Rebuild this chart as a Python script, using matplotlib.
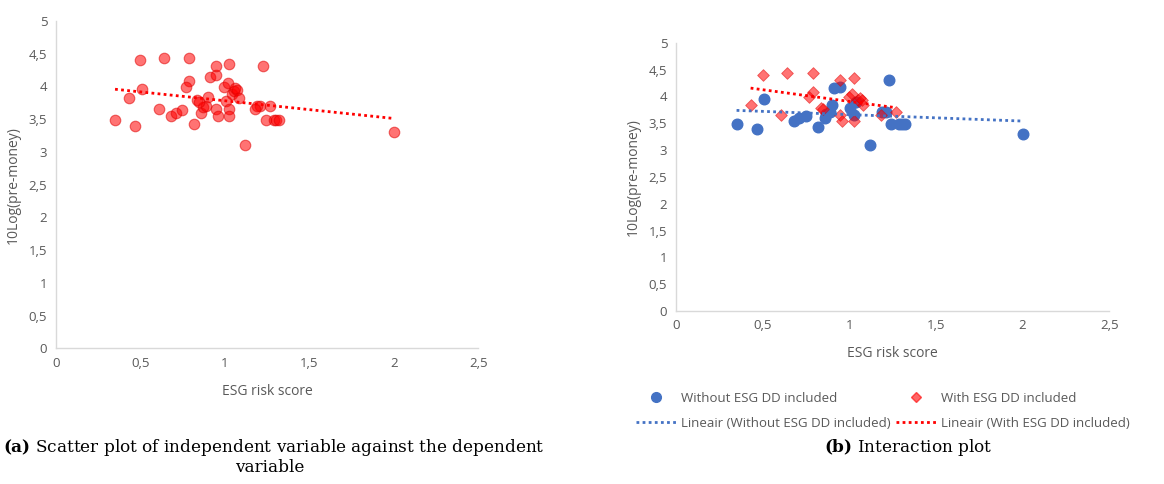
import numpy as np
import matplotlib
matplotlib.use("Agg")
import matplotlib.pyplot as plt
from matplotlib.lines import Line2D

# ---- data ----
esg_without = [0.351, 0.469, 0.511, 0.680, 0.710, 0.749, 0.820, 0.862, 0.869, 0.891,
               0.901, 0.911, 0.950, 1.007, 1.027, 1.041, 1.120, 1.191, 1.211, 1.228,
               1.242, 1.289, 1.303, 1.321, 2.001]
val_without = [3.48, 3.40, 3.96, 3.55, 3.59, 3.64, 3.43, 3.59, 3.68, 3.70,
               3.84, 4.15, 4.18, 3.78, 3.66, 3.89, 3.10, 3.70, 3.70, 4.31,
               3.48, 3.48, 3.48, 3.48, 3.30]
esg_with = [0.432, 0.501, 0.609, 0.641, 0.789, 0.789, 0.769, 0.838, 0.848, 0.950,
            0.950, 0.960, 0.998, 1.019, 1.027, 1.027, 1.053, 1.061, 1.073, 1.082,
            1.181, 1.270]
val_with = [3.83, 4.40, 3.66, 4.44, 4.43, 4.09, 3.99, 3.79, 3.76, 4.31,
            3.66, 3.55, 3.99, 4.05, 4.34, 3.55, 3.93, 3.97, 3.94, 3.83,
            3.66, 3.70]

x_ticks = [0, 0.5, 1, 1.5, 2, 2.5]
y_ticks = [0, 0.5, 1, 1.5, 2, 2.5, 3, 3.5, 4, 4.5, 5]
x_label = "ESG risk score"
y_label = "10Log(pre-money)"
caption_a_line1 = "Scatter plot of independent variable against the dependent"
caption_a_line2 = "variable"
caption_b = "Interaction plot"
legend_labels = ["Without ESG DD included", "Lineair (Without ESG DD included)",
                 "With ESG DD included", "Lineair (With ESG DD included)"]

BLUE = "#4472C4"
RED = "#FF0000"
GRAY = "#595959"
AX_GRAY = "#D9D9D9"

plt.rcParams['font.family'] = ['Open Sans', 'DejaVu Sans']
plt.rcParams['mathtext.fontset'] = 'dejavuserif'

W, H = 1164, 484
fig = plt.figure(figsize=(W / 100, H / 100), dpi=100)


def fmt(v):
    return ("%g" % v).replace(".", ",")


def style_axes(ax):
    ax.set_xlim(0, 2.5)
    ax.set_ylim(0, 5)
    ax.set_xticks(x_ticks)
    ax.set_yticks(y_ticks)
    ax.set_xticklabels([fmt(v) for v in x_ticks])
    ax.set_yticklabels([fmt(v) for v in y_ticks])
    for s in ["top", "right"]:
        ax.spines[s].set_visible(False)
    for s in ["left", "bottom"]:
        ax.spines[s].set_color(AX_GRAY)
        ax.spines[s].set_linewidth(1.0)
    ax.tick_params(length=0, colors=GRAY, labelsize=9.5, pad=6)
    ax.set_xlabel(x_label, color=GRAY, fontsize=10, labelpad=10)
    ax.set_ylabel(y_label, color=GRAY, fontsize=10, labelpad=6)


def trend(ax, xs, ys, color):
    xs = np.asarray(xs); ys = np.asarray(ys)
    m, b = np.polyfit(xs, ys, 1)
    xx = np.array([xs.min(), xs.max()])
    ax.plot(xx, m * xx + b, color=color, lw=2.0, linestyle=(0, (1, 1.2)), zorder=3)


# ---- panel (a) ----
axL = fig.add_axes([55.7 / W, 1 - 348.3 / H, (478.3 - 55.7) / W, (348.3 - 21) / H])
all_x = esg_without + esg_with
all_y = val_without + val_with
axL.scatter(all_x, all_y, s=58, color=RED, alpha=0.55, edgecolors="#E00000",
            linewidths=0.8, zorder=2)
trend(axL, all_x, all_y, RED)
style_axes(axL)

# ---- panel (b) ----
axR = fig.add_axes([675.7 / W, 1 - 311 / H, (1109.3 - 675.7) / W, (311 - 42.7) / H])
axR.scatter(esg_without, val_without, s=58, color=BLUE, zorder=2)
axR.scatter(esg_with, val_with, s=36, marker="D", color=RED, alpha=0.55,
            edgecolors="#E00000", linewidths=0.6, zorder=2)
trend(axR, esg_without, val_without, BLUE)
trend(axR, esg_with, val_with, RED)
style_axes(axR)

handles = [
    Line2D([], [], marker="o", ls="none", color=BLUE, markersize=7),
    Line2D([], [], color=BLUE, lw=2.0, linestyle=(0, (1, 1.2))),
    Line2D([], [], marker="D", ls="none", color=RED, alpha=0.6, markersize=5.5),
    Line2D([], [], color=RED, lw=2.0, linestyle=(0, (1, 1.2))),
]
fig.legend(handles, legend_labels, ncol=2, loc="center",
           bbox_to_anchor=(883 / W, 1 - 411 / H), frameon=False,
           fontsize=9.5, labelcolor=GRAY, handlelength=3.0, handletextpad=0.4,
           columnspacing=0.4, labelspacing=0.9)

# ---- captions ----
cap_kw = dict(ha="center", va="center", fontsize=12.2, family="DejaVu Serif", color="black")
fig.text(274 / W, 1 - 447 / H, r"$\mathbf{(a)}$ " + caption_a_line1, **cap_kw)
fig.text(270 / W, 1 - 467 / H, caption_a_line2, **cap_kw)
fig.text(908 / W, 1 - 447 / H, r"$\mathbf{(b)}$ " + caption_b, **cap_kw)

fig.savefig("out.png", dpi=100)
